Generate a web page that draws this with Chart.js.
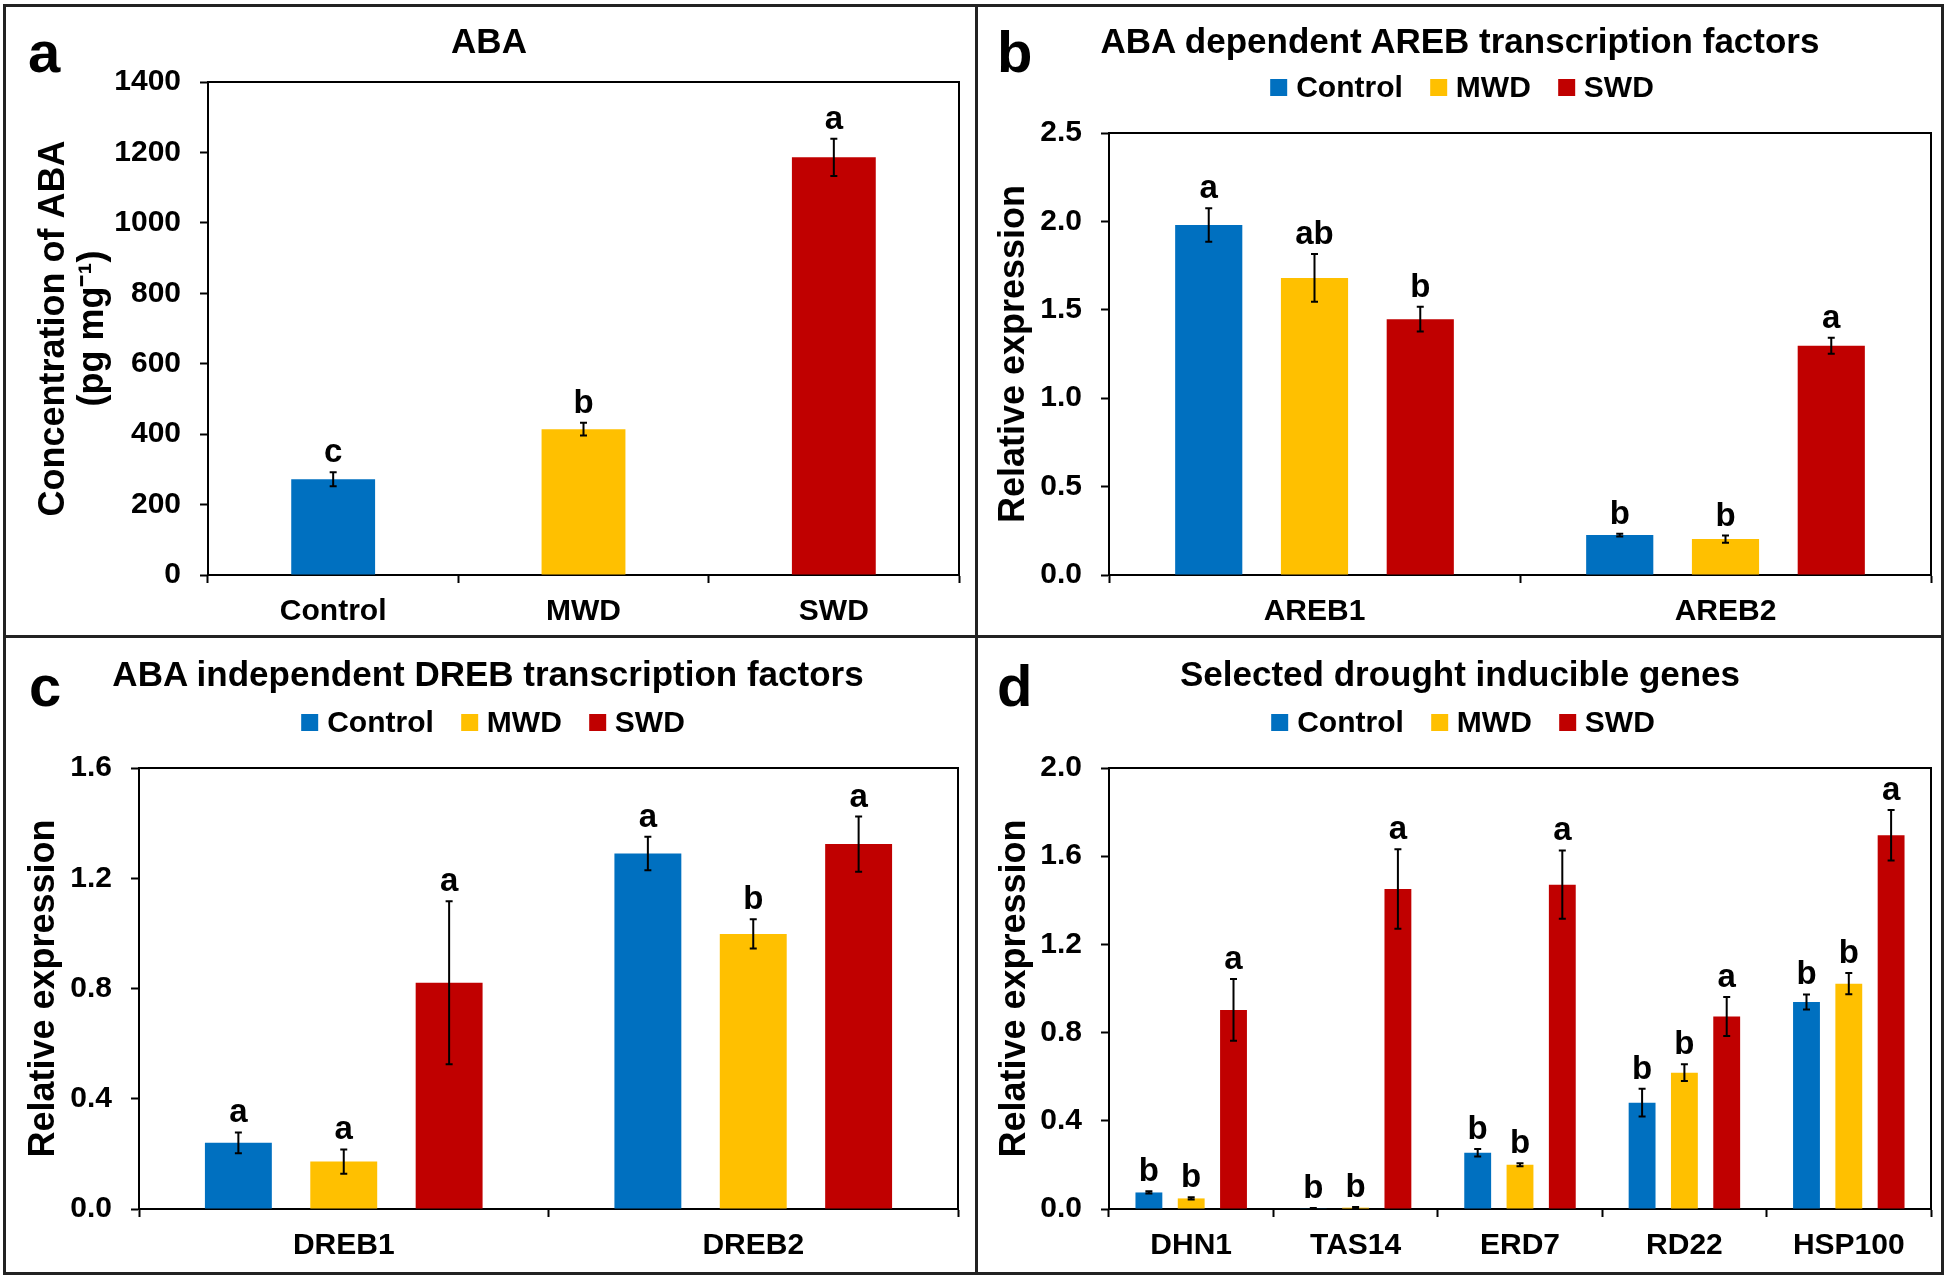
<!DOCTYPE html>
<html>
<head>
<meta charset="utf-8">
<script src="https://cdn.jsdelivr.net/npm/chart.js@4.4.0/dist/chart.umd.min.js"></script>
<style>
  html, body { margin: 0; padding: 0; background: #fff; }
  #fig { position: relative; width: 1948px; height: 1279px; overflow: hidden;
         font-family: "Liberation Sans", Arial, sans-serif; font-weight: bold; color: #000; }
  canvas { position: absolute; }
  .rule { position: absolute; background: #222; }
  .title { position: absolute; font-size: 35px; line-height: 1; white-space: nowrap; transform: translateX(-50%); }
  .tag { position: absolute; font-size: 58px; line-height: 1; }
  .legend { position: absolute; display: flex; align-items: center; font-size: 30px; line-height: 1;
            white-space: nowrap; transform: translateX(-50%); }
  .legend .box { width: 17px; height: 17px; margin-right: 9px; }
  .legend .lab { margin-right: 27px; }
  .legend .lab:last-child { margin-right: 0; }
</style>
</head>
<body>
<div id="fig">
  <canvas id="chartA" width="975" height="636" style="left:0;top:0"></canvas>
  <canvas id="chartB" width="973" height="636" style="left:975px;top:0"></canvas>
  <canvas id="chartC" width="975" height="643" style="left:0;top:636px"></canvas>
  <canvas id="chartD" width="973" height="643" style="left:975px;top:636px"></canvas>

  <div class="tag" style="left:28px;top:23px">a</div>
  <div class="tag" style="left:997px;top:23px">b</div>
  <div class="tag" style="left:29px;top:657px">c</div>
  <div class="tag" style="left:997px;top:657px">d</div>

  <div class="title" style="left:489px;top:23px">ABA</div>
  <div class="title" style="left:1460px;top:23px">ABA dependent AREB transcription factors</div>
  <div class="title" style="left:488px;top:656px">ABA independent DREB transcription factors</div>
  <div class="title" style="left:1460px;top:656px">Selected drought inducible genes</div>

  <div class="legend" id="legendB" style="left:1462px;top:72px"></div>
  <div class="legend" id="legendC" style="left:493px;top:707px"></div>
  <div class="legend" id="legendD" style="left:1463px;top:707px"></div>

  <div class="rule" style="left:3px;top:4px;width:1941px;height:3px"></div>
  <div class="rule" style="left:3px;top:1272px;width:1941px;height:3px"></div>
  <div class="rule" style="left:3px;top:4px;width:3px;height:1271px"></div>
  <div class="rule" style="left:1941px;top:4px;width:3px;height:1271px"></div>
  <div class="rule" style="left:975px;top:4px;width:3px;height:1271px"></div>
  <div class="rule" style="left:3px;top:635px;width:1941px;height:3px"></div>
</div>

<script>
const FONT = "'Liberation Sans', Arial, sans-serif";
const seriesNames = ["Control", "MWD", "SWD"];
const seriesColors = ["#0070C0", "#FFC000", "#C00000"];

// panel a - ABA concentration
const abaCategories = ["Control", "MWD", "SWD"];
const abaValues = [272, 414, 1186];
const abaErrors = [20, 18, 53];
const abaLetters = ["c", "b", "a"];
const abaTicks = [0, 200, 400, 600, 800, 1000, 1200, 1400];

// panel b - AREB
const arebCategories = ["AREB1", "AREB2"];
const arebControl = [1.98, 0.226];
const arebMWD = [1.68, 0.203];
const arebSWD = [1.447, 1.297];
const arebControlErr = [0.095, 0.008];
const arebMWDErr = [0.135, 0.02];
const arebSWDErr = [0.07, 0.045];
const arebControlLetters = ["a", "b"];
const arebMWDLetters = ["ab", "b"];
const arebSWDLetters = ["b", "a"];
const arebTicks = [0, 0.5, 1.0, 1.5, 2.0, 2.5];

// panel c - DREB
const drebCategories = ["DREB1", "DREB2"];
const drebControl = [0.24, 1.29];
const drebMWD = [0.172, 0.998];
const drebSWD = [0.821, 1.324];
const drebControlErr = [0.038, 0.061];
const drebMWDErr = [0.044, 0.053];
const drebSWDErr = [0.296, 0.1];
const drebControlLetters = ["a", "a"];
const drebMWDLetters = ["a", "b"];
const drebSWDLetters = ["a", "a"];
const drebTicks = [0, 0.4, 0.8, 1.2, 1.6];

// panel d - drought inducible genes
const geneCategories = ["DHN1", "TAS14", "ERD7", "RD22", "HSP100"];
const geneControl = [0.075, 0.003, 0.255, 0.482, 0.939];
const geneMWD = [0.048, 0.006, 0.201, 0.618, 1.022];
const geneSWD = [0.903, 1.451, 1.471, 0.873, 1.695];
const geneControlErr = [0.005, 0.002, 0.017, 0.063, 0.034];
const geneMWDErr = [0.005, 0.003, 0.007, 0.038, 0.048];
const geneSWDErr = [0.14, 0.18, 0.155, 0.088, 0.115];
const geneControlLetters = ["b", "b", "b", "b", "b"];
const geneMWDLetters = ["b", "b", "b", "b", "b"];
const geneSWDLetters = ["a", "a", "a", "a", "a"];
const geneTicks = [0, 0.4, 0.8, 1.2, 1.6, 2.0];

// box line on top and right of the plot area
const plotFrame = {
  id: "plotFrame",
  afterDraw(chart) {
    const { ctx, chartArea: { left, top, right, bottom } } = chart;
    ctx.save();
    ctx.strokeStyle = "#000";
    ctx.lineWidth = 2;
    ctx.beginPath();
    ctx.moveTo(left, top);
    ctx.lineTo(right, top);
    ctx.lineTo(right, bottom);
    ctx.stroke();
    ctx.restore();
  },
};

// error bars + significance letters
const errorBars = {
  id: "errorBars",
  afterDatasetsDraw(chart) {
    const { ctx } = chart;
    const yScale = chart.scales.y;
    chart.data.datasets.forEach((ds, i) => {
      const meta = chart.getDatasetMeta(i);
      meta.data.forEach((bar, j) => {
        const v = ds.data[j];
        const e = ds.errors[j];
        const yTop = yScale.getPixelForValue(v + e);
        const yBot = yScale.getPixelForValue(Math.max(v - e, 0));
        ctx.save();
        ctx.strokeStyle = "#000";
        ctx.lineWidth = 2;
        ctx.beginPath();
        ctx.moveTo(bar.x, yTop);
        ctx.lineTo(bar.x, yBot);
        ctx.moveTo(bar.x - 3.5, yTop);
        ctx.lineTo(bar.x + 3.5, yTop);
        ctx.moveTo(bar.x - 3.5, yBot);
        ctx.lineTo(bar.x + 3.5, yBot);
        ctx.stroke();
        ctx.fillStyle = "#000";
        ctx.font = `bold 33px ${FONT}`;
        ctx.textAlign = "center";
        ctx.textBaseline = "alphabetic";
        ctx.fillText(ds.letters[j], bar.x, yTop - 10);
        ctx.restore();
      });
    });
  },
};

function buildLegend(id) {
  const el = document.getElementById(id);
  seriesNames.forEach((name, i) => {
    const box = document.createElement("span");
    box.className = "box";
    box.style.background = seriesColors[i];
    const lab = document.createElement("span");
    lab.className = "lab";
    lab.textContent = name;
    el.appendChild(box);
    el.appendChild(lab);
  });
}

function groupSets(values, errors, letters) {
  return seriesNames.map((name, i) => ({
    label: name,
    data: values[i],
    errors: errors[i],
    letters: letters[i],
    backgroundColor: seriesColors[i],
    categoryPercentage: 0.772,
    barPercentage: 0.635,
  }));
}

function makePanel(id, p) {
  const tickFont = { family: FONT, size: 30, weight: "bold" };
  return new Chart(document.getElementById(id), {
    type: "bar",
    data: { labels: p.labels, datasets: p.datasets },
    plugins: [errorBars, plotFrame],
    options: {
      responsive: false,
      animation: false,
      devicePixelRatio: 1,
      layout: { padding: { left: 0, right: p.padRight, top: p.padTop, bottom: 0 } },
      plugins: { legend: { display: false }, title: { display: false }, tooltip: { enabled: false } },
      scales: {
        x: {
          offset: true,
          afterFit: (s) => { s.height = p.xHeight; },
          border: { display: true, color: "#000", width: 2 },
          grid: { display: true, offset: true, drawOnChartArea: false, drawTicks: true,
                  tickLength: 8, tickColor: "#000", tickWidth: 2 },
          ticks: { color: "#000", font: tickFont, padding: 11, maxRotation: 0, autoSkip: false },
        },
        y: {
          min: 0,
          max: p.ticks[p.ticks.length - 1],
          afterBuildTicks: (s) => { s.ticks = p.ticks.map((v) => ({ value: v })); },
          afterFit: (s) => { s.width = p.yWidth; },
          border: { display: true, color: "#000", width: 2 },
          grid: { display: true, drawOnChartArea: false, drawTicks: true,
                  tickLength: 8, tickColor: "#000", tickWidth: 2 },
          ticks: { color: "#000", font: tickFont, padding: 19, callback: p.fmt },
          title: {
            display: true,
            text: p.yTitle,
            color: "#000",
            font: { family: FONT, size: 36, weight: "bold", lineHeight: 1.08 },
            padding: { top: p.titlePad, bottom: 0 },
          },
        },
      },
    },
  });
}

const oneDecimal = (v) => Number(v).toFixed(1);

buildLegend("legendB");
buildLegend("legendC");
buildLegend("legendD");

makePanel("chartA", {
  labels: abaCategories,
  datasets: [{
    label: "ABA",
    data: abaValues,
    errors: abaErrors,
    letters: abaLetters,
    backgroundColor: seriesColors,
    categoryPercentage: 1,
    barPercentage: 0.335,
  }],
  ticks: abaTicks,
  fmt: (v) => String(v),
  yTitle: ["Concentration of ABA", "(pg mg\u207B\u00B9)"],
  titlePad: 35,
  yWidth: 208,
  padRight: 16,
  padTop: 82,
  xHeight: 61,
});

makePanel("chartB", {
  labels: arebCategories,
  datasets: groupSets([arebControl, arebMWD, arebSWD],
                      [arebControlErr, arebMWDErr, arebSWDErr],
                      [arebControlLetters, arebMWDLetters, arebSWDLetters]),
  ticks: arebTicks,
  fmt: oneDecimal,
  yTitle: "Relative expression",
  titlePad: 20,
  yWidth: 134,
  padRight: 17,
  padTop: 133,
  xHeight: 61,
});

makePanel("chartC", {
  labels: drebCategories,
  datasets: groupSets([drebControl, drebMWD, drebSWD],
                      [drebControlErr, drebMWDErr, drebSWDErr],
                      [drebControlLetters, drebMWDLetters, drebSWDLetters]),
  ticks: drebTicks,
  fmt: oneDecimal,
  yTitle: "Relative expression",
  titlePad: 25,
  yWidth: 139,
  padRight: 17,
  padTop: 132,
  xHeight: 70,
});

makePanel("chartD", {
  labels: geneCategories,
  datasets: groupSets([geneControl, geneMWD, geneSWD],
                      [geneControlErr, geneMWDErr, geneSWDErr],
                      [geneControlLetters, geneMWDLetters, geneSWDLetters]),
  ticks: geneTicks,
  fmt: oneDecimal,
  yTitle: "Relative expression",
  titlePad: 21,
  yWidth: 134,
  padRight: 17,
  padTop: 132,
  xHeight: 70,
});
</script>
</body>
</html>
